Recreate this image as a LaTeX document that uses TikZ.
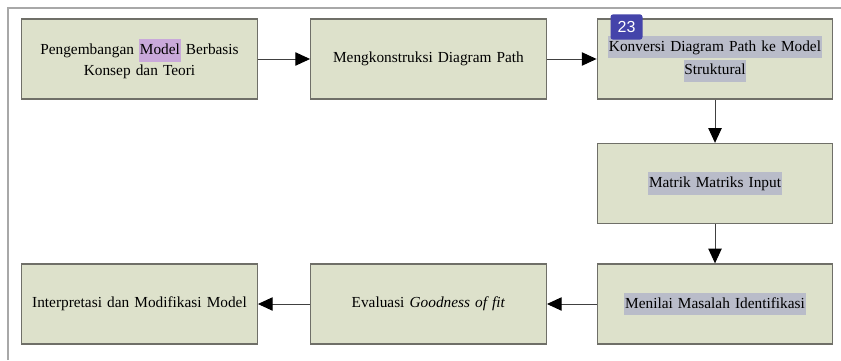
\documentclass[tikz,border=0pt]{standalone}
\usepackage{fontspec}
\setmainfont{Liberation Serif}
\setsansfont{Liberation Sans}
\usetikzlibrary{arrows.meta}
\usetikzlibrary{positioning}

\definecolor{boxfill}{HTML}{DDE1CB}
\definecolor{boxline}{HTML}{6F6F68}
\definecolor{hlgray}{HTML}{B9BCC9}
\definecolor{hlpurple}{HTML}{C9A9DA}
\definecolor{badge}{HTML}{4444AA}
\definecolor{pageline}{HTML}{A8A8A8}

% highlighted words
\newcommand{\hlg}[1]{{\setlength{\fboxsep}{0.6pt}\colorbox{hlgray}{\strut #1}}}
\newcommand{\hlp}[1]{{\setlength{\fboxsep}{0.6pt}\colorbox{hlpurple}{\strut #1}}}

\tikzset{
  stagebox/.style={draw=boxline, line width=1pt, fill=boxfill,
    minimum width=176pt, minimum height=60pt, align=center,
    text width=170pt, font=\fontsize{11.5}{15.5}\selectfont},
  flow/.style={line width=0.7pt, draw=black!75,
    -{Triangle[length=11pt,width=10pt,color=black]}}
}

\begin{document}
\begin{tikzpicture}[x=0.75pt, y=-0.75pt]
  % Fix the picture size
  \useasboundingbox (0,0) rectangle (841,360);

  % Page border of the screenshot
  \draw[pageline, line width=1.5pt] (8,360) -- (8,8) -- (841,8);

  % Top row
  \node[stagebox] (develop) at (139.5,59) {Pengembangan \hlp{Model} Berbasis\\Konsep dan Teori};
  \node[stagebox] (construct) at (428.5,59) {Mengkonstruksi Diagram Path};
  \node[stagebox] (convert) at (715,59) {\hlg{Konversi Diagram Path ke Model}\\\hlg{Struktural}};

  % Right column
  \node[stagebox] (input) at (715,183.5) {\hlg{Matrik Matriks Input}};
  \node[stagebox] (identify) at (715,304) {\hlg{Menilai Masalah Identifikasi}};

  % Bottom row
  \node[stagebox] (evaluate) at (428.5,304) {Evaluasi \textit{Goodness of fit}};
  \node[stagebox] (interpret) at (139.5,304) {Interpretasi dan Modifikasi Model};

  % Connectors
  \draw[flow] (develop) -- (construct);
  \draw[flow] (construct) -- (convert);
  \draw[flow] (convert) -- (input);
  \draw[flow] (input) -- (identify);
  \draw[flow] (identify) -- (evaluate);
  \draw[flow] (evaluate) -- (interpret);

  % Page number badge
  \node[fill=badge, rounded corners=2pt, text=white, font=\sffamily\fontsize{12}{12}\selectfont,
    minimum width=24pt, minimum height=19pt, inner sep=0pt] (page) at (626.5,27) {23};

\end{tikzpicture}
\end{document}
